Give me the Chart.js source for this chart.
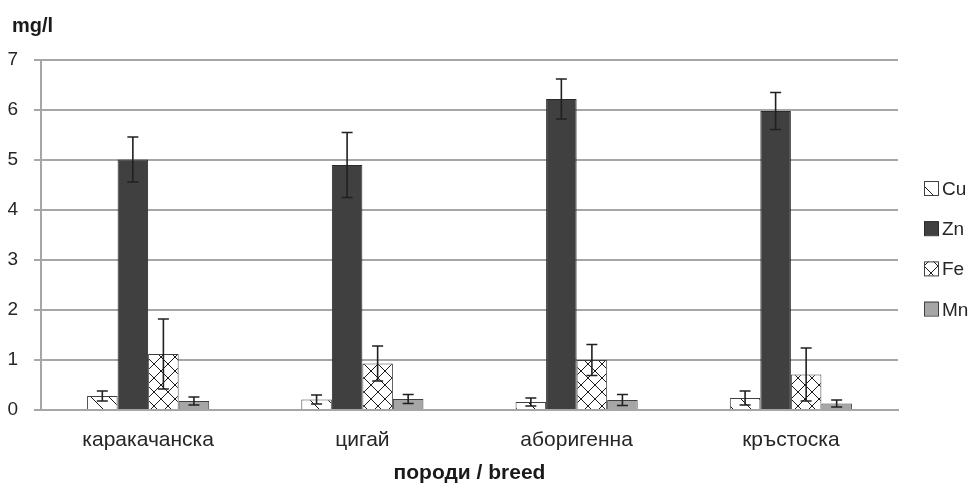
<!DOCTYPE html>
<html>
<head>
<meta charset="utf-8">
<script src="https://cdn.jsdelivr.net/npm/chart.js@4/dist/chart.umd.min.js"></script>
<style>
  body { margin: 0; background: #fff; }
</style>
</head>
<body>
<canvas id="chart" width="973" height="483"></canvas>
<script>
const categories = ['каракачанска', 'цигай', 'аборигенна', 'кръстоска'];
const cu = [0.28, 0.21, 0.16, 0.24];
const cuErr = [0.10, 0.09, 0.08, 0.14];
const zn = [5.01, 4.90, 6.22, 5.98];
const znErr = [0.45, 0.65, 0.40, 0.37];
const fe = [1.12, 0.93, 1.00, 0.71];
const feErr = [0.70, 0.35, 0.31, 0.53];
const mn = [0.18, 0.22, 0.20, 0.13];
const mnErr = [0.08, 0.09, 0.11, 0.07];
const yMin = 0, yMax = 7, yStep = 1;

const FONT = '"Liberation Sans", Arial, sans-serif';

function makePattern(size, draw) {
    const c = document.createElement('canvas');
    c.width = size;
    c.height = size;
    const g = c.getContext('2d');
    g.fillStyle = '#fff';
    g.fillRect(0, 0, size, size);
    g.strokeStyle = '#1a1a1a';
    g.lineWidth = 1;
    draw(g, size);
    return document.getElementById('chart').getContext('2d').createPattern(c, 'repeat');
}

// wide downward diagonal for Cu
const cuPattern = makePattern(18, (g, s) => {
    g.beginPath();
    g.moveTo(-1, -1); g.lineTo(s + 1, s + 1);
    g.stroke();
});
// large diamond lattice for Fe
const fePattern = makePattern(14, (g, s) => {
    g.beginPath();
    g.moveTo(-1, -1); g.lineTo(s + 1, s + 1);
    g.moveTo(s + 1, -1); g.lineTo(-1, s + 1);
    g.stroke();
});

const series = [
    { label: 'Cu', data: cu, err: cuErr, bg: cuPattern, border: '#404040' },
    { label: 'Zn', data: zn, err: znErr, bg: '#404040', border: '#2b2b2b' },
    { label: 'Fe', data: fe, err: feErr, bg: fePattern, border: '#404040' },
    { label: 'Mn', data: mn, err: mnErr, bg: '#a6a6a6', border: '#404040' }
];

const errorBars = {
    id: 'errorBars',
    afterDatasetsDraw(chart) {
        const ctx = chart.ctx;
        const y = chart.scales.y;
        ctx.save();
        ctx.strokeStyle = '#231f20';
        ctx.lineWidth = 1.6;
        chart.data.datasets.forEach((ds, i) => {
            const meta = chart.getDatasetMeta(i);
            meta.data.forEach((bar, j) => {
                const v = ds.data[j], e = ds.errors[j];
                const x = bar.x;
                const top = y.getPixelForValue(v + e);
                const bot = y.getPixelForValue(Math.max(0, v - e));
                ctx.beginPath();
                ctx.moveTo(x, top); ctx.lineTo(x, bot);
                ctx.moveTo(x - 5.5, top); ctx.lineTo(x + 5.5, top);
                ctx.moveTo(x - 5.5, bot); ctx.lineTo(x + 5.5, bot);
                ctx.stroke();
            });
        });
        ctx.restore();
    }
};

const extras = {
    id: 'extras',
    afterDraw(chart) {
        const ctx = chart.ctx;
        const area = chart.chartArea;
        ctx.save();
        ctx.fillStyle = '#1a1a1a';
        ctx.textBaseline = 'alphabetic';
        // axis unit label
        ctx.font = 'bold 20px ' + FONT;
        ctx.textAlign = 'left';
        ctx.fillText('mg/l', 12, 32);
        // x axis title
        ctx.font = 'bold 21px ' + FONT;
        ctx.textAlign = 'center';
        ctx.textBaseline = 'middle';
        ctx.fillText('породи / breed', (area.left + area.right) / 2, 473);
        // legend
        ctx.textAlign = 'left';
        ctx.textBaseline = 'alphabetic';
        ctx.font = '19px ' + FONT;
        chart.data.datasets.forEach((ds, i) => {
            const top = 181 + i * 40.2;
            ctx.fillStyle = ds.backgroundColor;
            ctx.fillRect(924, top, 14, 14);
            ctx.strokeStyle = ds.borderColor;
            ctx.lineWidth = 1;
            ctx.strokeRect(924.5, top + 0.5, 14, 14);
            ctx.fillStyle = '#262626';
            ctx.fillText(ds.label, 942, top + 14);
        });
        ctx.restore();
    }
};

new Chart(document.getElementById('chart'), {
    type: 'bar',
    data: {
        labels: categories,
        datasets: series.map(s => ({
            label: s.label,
            data: s.data,
            errors: s.err,
            backgroundColor: s.bg,
            borderColor: s.border,
            borderWidth: 1,
            categoryPercentage: 0.57,
            barPercentage: 1.0
        }))
    },
    options: {
        responsive: false,
        animation: false,
        layout: { padding: { left: 8, right: 75, top: 60, bottom: 0 } },
        plugins: {
            legend: { display: false },
            tooltip: { enabled: false }
        },
        scales: {
            x: {
                grid: { display: false, drawTicks: false },
                border: { color: '#a6a6a6', width: 2 },
                ticks: { color: '#262626', font: { family: FONT, size: 21 }, padding: 18 },
                afterFit(scale) { scale.height = 73; }
            },
            y: {
                min: yMin,
                max: yMax,
                ticks: {
                    stepSize: yStep,
                    color: '#262626',
                    font: { family: FONT, size: 19 },
                    padding: 16
                },
                grid: { color: '#a6a6a6', lineWidth: 2, tickLength: 7 },
                border: { color: '#a6a6a6', width: 2 },
                afterFit(scale) { scale.width = 33; }
            }
        }
    },
    plugins: [errorBars, extras]
});
</script>
</body>
</html>
